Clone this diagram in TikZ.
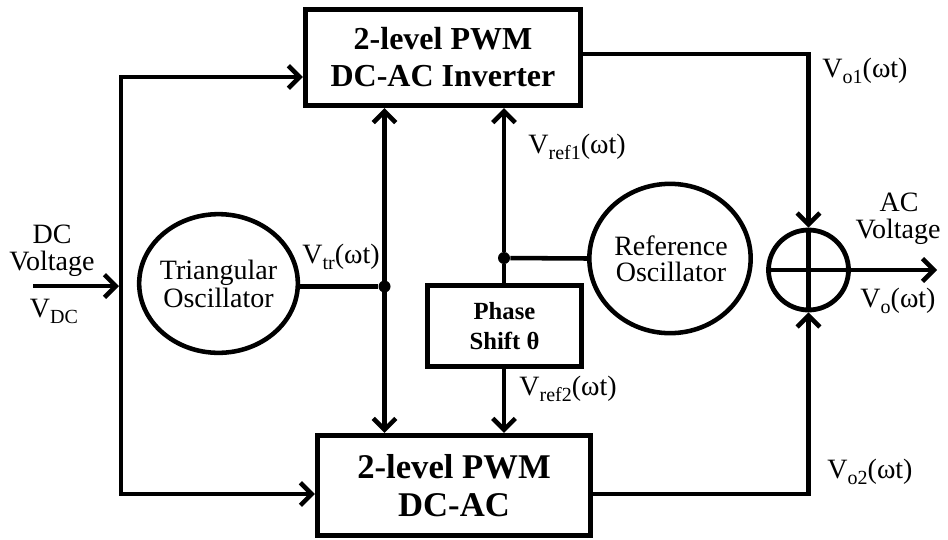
\documentclass[tikz,border=0pt]{standalone}
\usepackage{fontspec}
\setmainfont{Liberation Serif}
\usetikzlibrary{arrows.meta,shapes.geometric}
\newcommand\lblfont{\fontsize{21}{21}\selectfont}
\newcommand\sbs[1]{\raisebox{-0.22em}{\fontsize{15}{15}\selectfont #1}}
\begin{document}
\begin{tikzpicture}[x=0.75pt,y=-0.75pt,
  conn/.style={line width=3.4pt},
  tipb/.tip={Straight Barb[length=8.5pt,width=17pt]},
  arr/.style={conn,-tipb},
  arrb/.style={conn,tipb-tipb},
  blk/.style={draw,line width=3.9pt,rectangle,inner sep=0pt,align=center},
  osc/.style={draw,line width=3.4pt,ellipse,inner sep=0pt},
  jdot/.style={circle,fill,inner sep=0pt,minimum size=9pt},
  txt/.style={font=\lblfont,align=center,inner sep=0pt}
]
\useasboundingbox (0,0) rectangle (948,539);

% blocks
\node[blk,minimum width=206.25pt,minimum height=72pt,
      font=\fontsize{24}{27.75}\selectfont\bfseries] (inv1) at (443,57.5) {2-level PWM\\DC-AC Inverter};
\node[blk,minimum width=204.75pt,minimum height=75pt,
      font=\fontsize{26}{28.5}\selectfont\bfseries] (inv2) at (454,485.5) {2-level PWM\\DC-AC};
\node[blk,line width=3.4pt,minimum width=115.5pt,minimum height=60.75pt,
      font=\fontsize{18.5}{22.5}\selectfont\bfseries] (ps) at (504.5,326) {Phase\\Shift θ};

% oscillators
\node[osc,minimum width=119pt,minimum height=104pt] (tri) at (218.5,283.5) {};
\node[txt] (tritxt) at (tri) {Triangular\\Oscillator};
\node[osc,minimum width=121pt,minimum height=112pt] (ro) at (670,258.5) {};
\node[txt,font=\fontsize{21}{19.5}\selectfont] (rotxt) at (671,259) {Reference\\Oscillator};

% summing junction
\node[draw,circle,line width=3.6pt,minimum size=60pt,inner sep=0pt] (sum) at (808.5,270) {};
\draw[conn] (sum.north) -- (sum.south);
\draw[conn] (sum.west) -- (sum.east);

% junctions
\coordinate (jt) at (121,77);
\coordinate (jb) at (121,494);
\coordinate (jm) at (119,286);
\coordinate (dcin) at (33,286);
\node[jdot] (d1) at (384.5,286.5) {};
\node[jdot] (d2) at (504,258) {};
\coordinate (o1) at (808.5,54);
\coordinate (o2) at (808.5,494);
\coordinate (out) at (937,270);

% connectors
\draw[arr] (dcin) -- (jm);
\draw[arrb] (jt -| inv1.west) -- (jt) -- (jb) -- (jb -| inv2.west);
\draw[conn] (d1) -- (d1 -| tri.east);
\draw[arrb] (d1 |- inv1.south) -- (d1 |- inv2.north);
\draw[conn] (d2 |- ps.north) -- (d2);
\draw[arr] (d2) -- (d2 |- inv1.south);
\draw[conn] (d2) -- (ro.west);
\draw[arr] (d2 |- ps.south) -- (d2 |- inv2.north);
\draw[arr] (inv1.east |- o1) -- (o1) -- (sum.north);
\draw[arr] (inv2.east |- o2) -- (o2) -- (sum.south);
\draw[arr] (sum.east) -- (out);

% labels
\node[txt,anchor=base] (ldc) at (52,243) {DC};
\node[txt,anchor=base] (lvolt) at (52,270) {Voltage};
\node[txt,anchor=base] (lvdc) at (54,317) {V\sbs{DC}};
\node[txt,anchor=base] (lvtr) at (341,263) {V\sbs{tr}(ωt)};
\node[txt,anchor=base] (lvr1) at (577,153) {V\sbs{ref1}(ωt)};
\node[txt,anchor=base] (lvr2) at (568,395) {V\sbs{ref2}(ωt)};
\node[txt,anchor=base] (lvo1) at (865,77) {V\sbs{o1}(ωt)};
\node[txt,anchor=base] (lvo2) at (870,478) {V\sbs{o2}(ωt)};
\node[txt,anchor=base] (lac) at (899,211) {AC};
\node[txt,anchor=base] (lacv) at (898,238) {Voltage};
\node[txt,anchor=base] (lvo) at (898,307) {V\sbs{o}(ωt)};
\end{tikzpicture}
\end{document}
